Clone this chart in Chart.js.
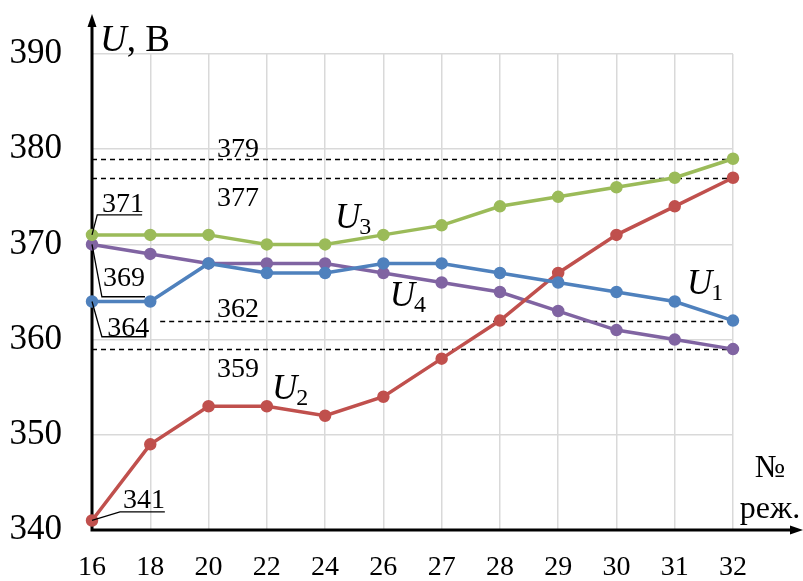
<!DOCTYPE html>
<html>
<head>
<meta charset="utf-8">
<script src="https://cdn.jsdelivr.net/npm/chart.js@4/dist/chart.umd.min.js"></script>
<style>
	html, body { margin: 0; padding: 0; background: #fff; }
	#wrap { width: 803px; height: 581px; }
</style>
</head>
<body>
<div id="wrap"><canvas id="chart"></canvas></div>
<script>
"use strict";

// operating regimes (x axis)
const regimes = ["16", "18", "20", "22", "24", "26", "27", "28", "29", "30", "31", "32"];

// voltages, V
const u1 = [364, 364, 368, 367, 367, 368, 368, 367, 366, 365, 364, 362];
const u2 = [341, 349, 353, 353, 352, 354, 358, 362, 367, 371, 374, 377];
const u3 = [371, 371, 371, 370, 370, 371, 372, 374, 375, 376, 377, 379];
const u4 = [370, 369, 368, 368, 368, 367, 366, 365, 363, 361, 360, 359];

const yTicks = [340, 350, 360, 370, 380, 390];

// dashed reference levels: [value, start index]
const refLevels = [[379, 0], [377, 0], [362, 1.17], [359, 0]];

const SERIF = "'Liberation Serif', 'Times New Roman', serif";

// text labels in data coords (index, value), left aligned on baseline
const numLabels = [
	["379", 2.145, 379.2],
	["377", 2.145, 374.0],
	["371", 0.17, 373.4],
	["369", 0.19, 365.6],
	["364", 0.26, 360.4],
	["362", 2.145, 362.4],
	["359", 2.145, 356.1],
	["341", 0.53, 342.3],
];

// leader lines: polyline in data coords
const leaders = [
	[[0, 371], [0.09, 373.1], [0.86, 373.1]],
	[[0, 370], [0.17, 364.5], [0.91, 364.5]],
	[[0, 364], [0.17, 360.3], [0.93, 360.3]],
	[[0, 341], [0.48, 341.9], [1.25, 341.9]],
];

const seriesLabels = [
	["3", 4.17, 371.7],
	["4", 5.11, 363.5],
	["1", 10.21, 364.8],
	["2", 3.09, 353.8],
];

const extras = {
	id: "extras",
	beforeDatasetsDraw(chart) {
		const ctx = chart.ctx;
		const xs = chart.scales.x;
		const ys = chart.scales.y;
		const area = chart.chartArea;
		ctx.save();
		// dashed levels
		ctx.strokeStyle = "#000";
		ctx.lineWidth = 1.5;
		ctx.setLineDash([5, 4]);
		for (const [v, i0] of refLevels) {
			const y = Math.round(ys.getPixelForValue(v)) + 0.5;
			ctx.beginPath();
			ctx.moveTo(xs.getPixelForValue(i0), y);
			ctx.lineTo(area.right, y);
			ctx.stroke();
		}
		ctx.setLineDash([]);
		// axes with arrows
		ctx.lineWidth = 3;
		ctx.fillStyle = "#000";
		ctx.beginPath();
		ctx.moveTo(area.left, area.bottom + 1.5);
		ctx.lineTo(area.left, 24);
		ctx.moveTo(area.left - 1.5, area.bottom);
		ctx.lineTo(792, area.bottom);
		ctx.stroke();
		ctx.beginPath();
		ctx.moveTo(area.left, 14);
		ctx.lineTo(area.left - 4.5, 27);
		ctx.lineTo(area.left + 4.5, 27);
		ctx.closePath();
		ctx.fill();
		ctx.beginPath();
		ctx.moveTo(803, area.bottom);
		ctx.lineTo(790, area.bottom - 4.5);
		ctx.lineTo(790, area.bottom + 4.5);
		ctx.closePath();
		ctx.fill();
		ctx.restore();
	},
	afterDatasetsDraw(chart) {
		const ctx = chart.ctx;
		const xs = chart.scales.x;
		const ys = chart.scales.y;
		const px = i => xs.getPixelForValue(i);
		const py = v => ys.getPixelForValue(v);
		ctx.save();
		ctx.fillStyle = "#000";
		ctx.strokeStyle = "#000";
		ctx.textAlign = "left";
		ctx.textBaseline = "alphabetic";
		ctx.font = `28px ${SERIF}`;
		for (const [t, i, v] of numLabels) {
			ctx.fillText(t, px(i), py(v));
		}
		ctx.lineWidth = 1.3;
		for (const pts of leaders) {
			ctx.beginPath();
			pts.forEach(([i, v], k) => {
				if (k === 0) ctx.moveTo(px(i), py(v));
				else ctx.lineTo(px(i), py(v));
			});
			ctx.stroke();
		}
		// series names U with subscript
		for (const [s, i, v] of seriesLabels) {
			ctx.font = `italic 35px ${SERIF}`;
			const x = px(i);
			const y = py(v);
			ctx.fillText("U", x, y);
			const w = ctx.measureText("U").width;
			ctx.font = `24px ${SERIF}`;
			ctx.fillText(s, x + w - 1, y + 6);
		}
		// axis titles
		ctx.font = `italic 37px ${SERIF}`;
		ctx.fillText("U", 100, 51);
		const wu = ctx.measureText("U").width;
		ctx.font = `37px ${SERIF}`;
		ctx.fillText(", В", 100 + wu, 51);
		ctx.font = `32px ${SERIF}`;
		ctx.textAlign = "center";
		ctx.fillText("№", 770, 477);
		ctx.fillText("реж.", 770, 518);
		ctx.restore();
	},
};

const mk = (label, data, color) => ({
	label: label,
	data: data,
	borderColor: color,
	backgroundColor: color,
	pointBackgroundColor: color,
	pointBorderColor: color,
	borderWidth: 3.5,
	pointRadius: 4.5,
	tension: 0,
});

new Chart(document.getElementById("chart"), {
	type: "line",
	data: {
		labels: regimes,
		datasets: [
			mk("U1", u1, "#4f81bd"),
			mk("U2", u2, "#c0504d"),
			mk("U3", u3, "#9bbb59"),
			mk("U4", u4, "#8064a2"),
		],
	},
	options: {
		responsive: true,
		maintainAspectRatio: false,
		animation: false,
		layout: { padding: { top: 54, right: 70, left: 0, bottom: 0 } },
		plugins: {
			legend: { display: false },
			tooltip: { enabled: false },
		},
		scales: {
			x: {
				offset: false,
				grid: { color: "#d9d9d9", lineWidth: 1.5, drawTicks: false },
				border: { display: false },
				ticks: {
					color: "#000",
					font: { family: SERIF, size: 28 },
					padding: 21,
					maxRotation: 0,
					autoSkip: false,
				},
				afterFit: s => { s.height = 49; },
			},
			y: {
				min: yTicks[0],
				max: yTicks[yTicks.length - 1],
				afterBuildTicks: s => { s.ticks = yTicks.map(v => ({ value: v })); },
				grid: { color: "#d9d9d9", lineWidth: 1.5, drawTicks: false },
				border: { display: false },
				ticks: {
					color: "#000",
					font: { family: SERIF, size: 35 },
					padding: 30,
				},
				afterFit: s => { s.width = 92; },
			},
		},
	},
	plugins: [extras],
});
</script>
</body>
</html>
